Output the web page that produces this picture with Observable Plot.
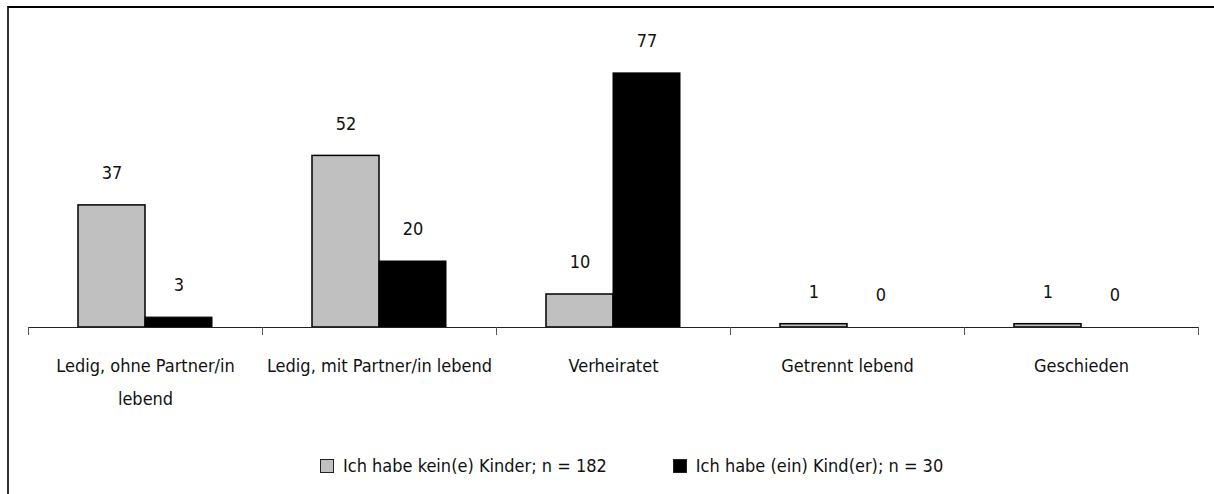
<!DOCTYPE html>
<html><head><meta charset="utf-8">
<script src="https://cdn.jsdelivr.net/npm/d3@7"></script>
<script src="https://cdn.jsdelivr.net/npm/@observablehq/plot@0.6"></script>
<style>
body{margin:0;background:#fff;font-family:"Liberation Sans Narrow","Arial Narrow","DejaVu Sans Condensed",sans-serif;}
#wrap{position:relative;width:1214px;height:494px;overflow:hidden;}
#frame{position:absolute;left:7px;top:6px;width:1400px;height:700px;border-top:2px solid #000;border-left:2px solid #333;}
#chart{position:absolute;left:0;top:0;}
#legend{position:absolute;top:455px;left:320px;font-size:18px;display:flex;align-items:center;color:#111;}
.item{display:flex;align-items:center;}
.sw{width:12px;height:12px;border:1px solid #222;margin-right:9px;}
</style></head>
<body>
<div id="wrap"><div id="frame"></div><div id="chart"></div><div id="legend"></div></div>
<script>
const categories = ["Ledig, ohne Partner/in lebend", "Ledig, mit Partner/in lebend", "Verheiratet", "Getrennt lebend", "Geschieden"];
const tickLabels = ["Ledig, ohne Partner/in\nlebend", "Ledig, mit Partner/in lebend", "Verheiratet", "Getrennt lebend", "Geschieden"];
const series = ["Ich habe kein(e) Kinder; n = 182", "Ich habe (ein) Kind(er); n = 30"];
const noChildren = [37, 52, 10, 1, 1];
const withChildren = [3, 20, 77, 0, 0];
const colors = ["#c0c0c0", "#000000"];

const rows0 = categories.map((c, i) => ({cat: c, series: series[0], value: noChildren[i]}));
const rows1 = categories.map((c, i) => ({cat: c, series: series[1], value: withChildren[i]}));

const W = 1214, H = 440, mL = 28, mR = 16, mT = 30, mB = 113;
const band = (W - mL - mR) / categories.length;
const barW = 67, outer = 50;
const font = '"Liberation Sans Narrow","Arial Narrow","DejaVu Sans Condensed",sans-serif';

const chart = Plot.plot({
  width: W, height: H,
  marginLeft: mL, marginRight: mR, marginTop: mT, marginBottom: mB,
  style: {fontFamily: font, fontSize: "18px", background: "transparent", color: "#111"},
  x: {domain: categories, padding: 0, axis: null},
  y: {domain: [0, 90], axis: null},
  marks: [
    Plot.barY(rows0, {x: "cat", y: "value", fill: colors[0], stroke: "#000", strokeWidth: 1.5,
      insetLeft: outer, insetRight: band - outer - barW}),
    Plot.barY(rows1.filter(d => d.value > 0), {x: "cat", y: "value", fill: colors[1], stroke: "#000",
      insetLeft: band - outer - barW, insetRight: outer}),
    Plot.ruleY([0], {stroke: "#222", strokeWidth: 1}),
    Plot.ruleX(categories, {x: d => d, y1: () => 0, y2: () => 0, insetBottom: -8, dx: -band / 2, stroke: "#555"}),
    Plot.ruleX(categories.slice(-1), {x: d => d, y1: () => 0, y2: () => 0, insetBottom: -8, dx: band / 2, stroke: "#555"}),
    Plot.text(rows0, {x: "cat", y: "value", text: d => String(d.value), dx: -(barW / 2), dy: -32, fontSize: 18, fill: "#111"}),
    Plot.text(rows1, {x: "cat", y: "value", text: d => String(d.value), dx: barW / 2, dy: -32, fontSize: 18, fill: "#111"}),
    Plot.text(categories, {x: d => d, y: () => 0, text: (d, i) => tickLabels[i], dy: 21, lineAnchor: "top",
      lineHeight: 1.83, fontSize: 18, fill: "#111"})
  ]
});
document.getElementById("chart").appendChild(chart);

const legend = document.getElementById("legend");
series.forEach((s, i) => {
  const item = document.createElement("div");
  item.className = "item";
  if (i > 0) item.style.marginLeft = "66px";
  const sw = document.createElement("div");
  sw.className = "sw";
  sw.style.background = colors[i];
  const t = document.createElement("span");
  t.textContent = s;
  item.appendChild(sw); item.appendChild(t);
  legend.appendChild(item);
});
</script>
</body></html>
